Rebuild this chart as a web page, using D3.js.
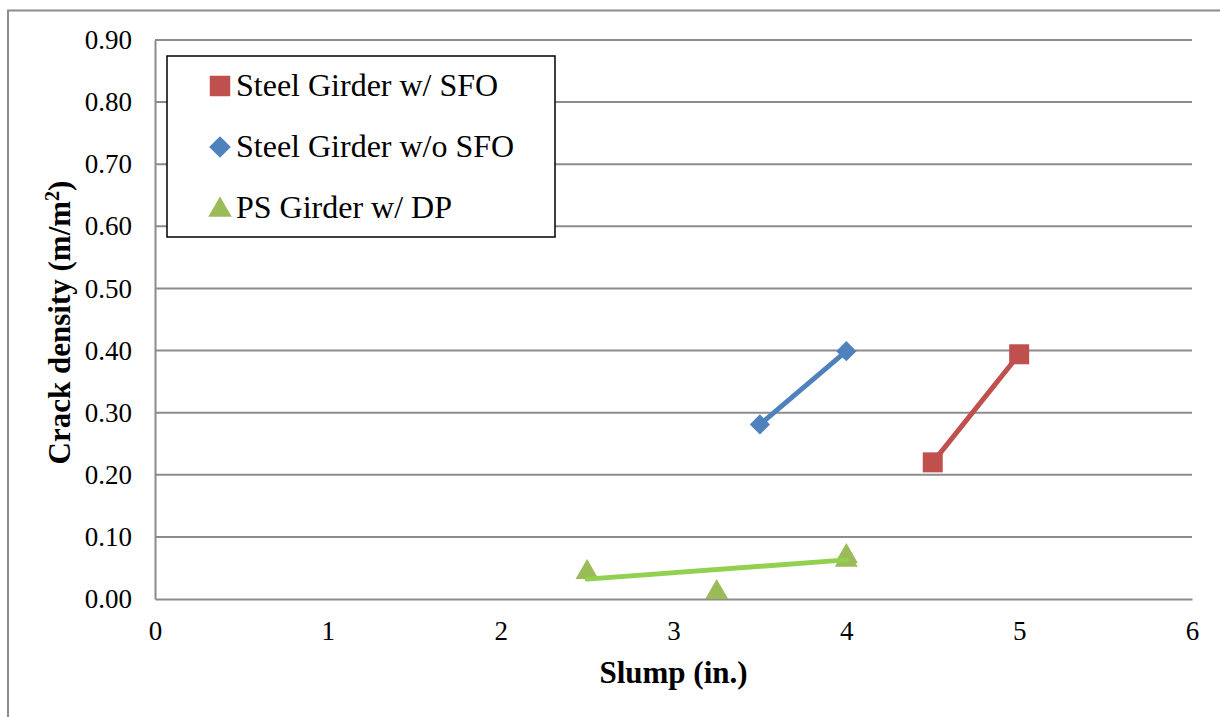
<!DOCTYPE html>
<html><head><meta charset="utf-8">
<script src="https://cdn.jsdelivr.net/npm/d3@7/dist/d3.min.js"></script>
<style>html,body{margin:0;padding:0;background:#fff;}svg{display:block;}
svg text{font-family:"Liberation Serif","Times New Roman",Times,serif;}</style>
</head><body>
<svg id="c" width="1220" height="717"></svg>
<script>
// ---- data ----
const xTicks = [0, 1, 2, 3, 4, 5, 6];
const yTicks = [0, 0.1, 0.2, 0.3, 0.4, 0.5, 0.6, 0.7, 0.8, 0.9];
const seriesNames = ["Steel Girder w/ SFO", "Steel Girder w/o SFO", "PS Girder w/ DP"];
const steelSFO = [[4.5, 0.220], [5.0, 0.394]];
const steelNoSFO = [[3.5, 0.281], [4.0, 0.399]];
const psDP = [[2.5, 0.046], [3.25, 0.014], [4.0, 0.072], [4.0, 0.066]];
const psDPTrend = [[2.5, 0.032], [4.0, 0.063]];

const svg = d3.select("#c");
const W = 1220, H = 717;
const m = {left: 155, right: 1192, top: 40, bottom: 599};
const x = d3.scaleLinear().domain([0, 6]).range([m.left, m.right]);
const y = d3.scaleLinear().domain([0, 0.9]).range([m.bottom, m.top]);
const font = "Liberation Serif";

// outer frame
svg.append("rect").attr("x", 8).attr("y", 10.5).attr("width", W + 10).attr("height", H + 10)
  .attr("fill", "none").attr("stroke", "#8c8c8c").attr("stroke-width", 2);

// gridlines
svg.append("g").selectAll("line").data(yTicks.filter(d => d > 0)).join("line")
  .attr("x1", m.left).attr("x2", m.right)
  .attr("y1", d => y(d)).attr("y2", d => y(d))
  .attr("stroke", "#8c8c8c").attr("stroke-width", 2);

// axes
const yAxis = d3.axisLeft(y).tickValues(yTicks).tickFormat(d3.format(".2f")).tickSize(0).tickPadding(23);
const gy = svg.append("g").attr("transform", `translate(${m.left},0)`).call(yAxis);
gy.attr("font-family", null);
gy.select(".domain").attr("stroke", "#8c8c8c").attr("stroke-width", 2);
gy.selectAll("text").style("font-family", font).style("font-size", "27px").attr("fill", "#000");

const xAxis = d3.axisBottom(x).tickValues(xTicks).tickFormat(d3.format("d")).tickSize(0).tickPadding(22);
const gx = svg.append("g").attr("transform", `translate(0,${m.bottom})`).call(xAxis);
gx.attr("font-family", null);
gx.select(".domain").attr("stroke", "#8c8c8c").attr("stroke-width", 2);
gx.selectAll("text").style("font-family", font).style("font-size", "27px").attr("fill", "#000");

// titles
svg.append("text").attr("x", (m.left + m.right) / 2).attr("y", 683)
  .attr("text-anchor", "middle").style("font-family", font).attr("font-weight", "bold")
  .style("font-size", "31px").text("Slump (in.)");
svg.append("text").attr("transform", `translate(70,${(m.top + m.bottom) / 2 + 3}) rotate(-90)`)
  .attr("text-anchor", "middle").style("font-family", font).attr("font-weight", "bold")
  .style("font-size", "31px")
  .call(t => { t.append("tspan").text("Crack density (m/m");
               t.append("tspan").attr("baseline-shift", "super").style("font-size", "20px").text("2");
               t.append("tspan").text(")"); });

const red = "#C0504D", blue = "#4F81BD", green = "#9BBB59", lgreen = "#92D050";
const line = d3.line().x(d => x(d[0])).y(d => y(d[1]));

// series lines
svg.append("path").attr("d", line(steelSFO)).attr("fill", "none").attr("stroke", red).attr("stroke-width", 5);
svg.append("path").attr("d", line(steelNoSFO)).attr("fill", "none").attr("stroke", blue).attr("stroke-width", 5);

// markers
const sq = d3.symbol().type(d3.symbolSquare).size(400);
const dm = d3.symbol().type(d3.symbolDiamond2).size(260);
const tr = d3.symbol().type(d3.symbolTriangle).size(230);
svg.append("g").selectAll("path").data(steelSFO).join("path")
  .attr("d", sq).attr("transform", d => `translate(${x(d[0])},${y(d[1])})`).attr("fill", red);
svg.append("g").selectAll("path").data(steelNoSFO).join("path")
  .attr("d", dm).attr("transform", d => `translate(${x(d[0])},${y(d[1])})`).attr("fill", blue);
svg.append("g").selectAll("path").data(psDP).join("path")
  .attr("d", tr).attr("transform", d => `translate(${x(d[0])},${y(d[1]) + 2})`).attr("fill", green);

// trend line
svg.append("path").attr("d", line(psDPTrend)).attr("fill", "none").attr("stroke", lgreen)
  .attr("stroke-width", 5).attr("stroke-linecap", "round");

// legend
const lg = svg.append("g");
lg.append("rect").attr("x", 167).attr("y", 56).attr("width", 388).attr("height", 181)
  .attr("fill", "#fff").attr("stroke", "#000").attr("stroke-width", 1.5);
const cols = [red, blue, green];
const lsizes = [[d3.symbolSquare, 420], [d3.symbolDiamond2, 300], [d3.symbolTriangle, 240]];
seriesNames.forEach((name, i) => {
  const cy = 86 + i * 61;
  lg.append("path").attr("d", d3.symbol().type(lsizes[i][0]).size(lsizes[i][1]))
    .attr("transform", `translate(220,${cy + (i === 2 ? 2 : 0)})`).attr("fill", cols[i]);
  lg.append("text").attr("x", 236).attr("y", cy + 10).style("font-family", font)
    .style("font-size", "32px").attr("fill", "#000").text(name);
});
</script>
</body></html>
